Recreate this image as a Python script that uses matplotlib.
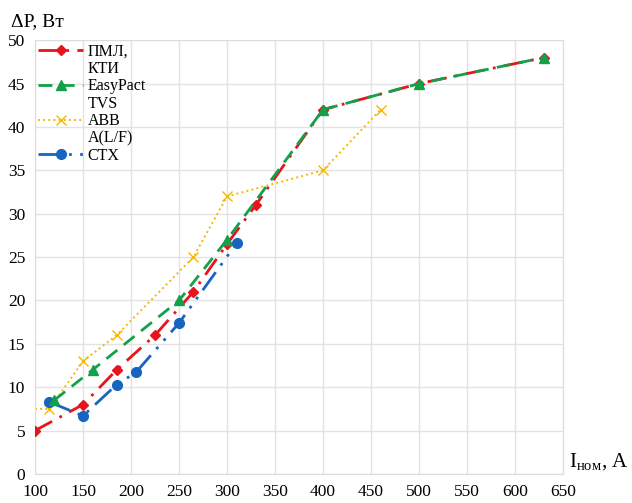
import matplotlib
matplotlib.use('Agg')
import matplotlib.pyplot as plt
from matplotlib.lines import Line2D

plt.rcParams['font.family'] = ['Liberation Serif', 'DejaVu Serif']
plt.rcParams['mathtext.fontset'] = 'custom'
plt.rcParams['mathtext.rm'] = 'Liberation Serif'

# ПМЛ, КТИ
pml_x = [100, 150, 185, 225, 265, 300, 330, 400, 500, 630]
pml_y = [5, 8, 12, 16, 21, 26.5, 31, 42, 45, 48]
# EasyPact TVS
eas_x = [120, 160, 250, 300, 400, 500, 630]
eas_y = [8.5, 12, 20, 27, 42, 45, 48]
# ABB A(L/F)
abb_x = [100, 115, 150, 185, 265, 300, 400, 460]
abb_y = [7.5, 7.5, 13, 16, 25, 32, 35, 42]
# CTX
ctx_x = [115, 150, 185, 205, 250, 310]
ctx_y = [8.3, 6.7, 10.3, 11.7, 17.4, 26.6]

legend_lines = [['ПМЛ,', 'КТИ'], ['EasyPact', 'TVS'], ['ABB', 'A(L/F)'], ['CTX']]

x_ticks = list(range(100, 651, 50))
y_ticks = list(range(0, 51, 5))

fig = plt.figure(figsize=(6.32, 5.03), dpi=100)
ax = fig.add_axes([0.0554, 0.0577, 0.8355, 0.8623])

l1, = ax.plot(pml_x, pml_y, color='#e8141c', linestyle=(0, (7, 3, 1, 3)), linewidth=2,
              marker='D', markersize=5, zorder=3)
l2, = ax.plot(eas_x, eas_y, color='#12a04a', linestyle=(0, (5, 3)), linewidth=2,
              marker='^', markersize=7, zorder=4)
l3, = ax.plot(abb_x, abb_y, color='#f5b800', linestyle=':', linewidth=1.4,
              marker='x', markersize=7, markevery=list(range(1, len(abb_x))), zorder=2)
l4, = ax.plot(ctx_x, ctx_y, color='#1765c0', linestyle=(0, (8, 3, 1, 3, 1, 3)), linewidth=2,
              marker='o', markersize=7, zorder=3)

ax.set_xlim(100, 650)
ax.set_ylim(0, 50)
ax.set_xticks(x_ticks)
ax.set_yticks(y_ticks)
ax.tick_params(length=0, labelsize=12.5, pad=7)
ax.grid(True, color='#e3e3e3', linewidth=1)
ax.set_axisbelow(True)
for s in ax.spines.values():
    s.set_color('#dcdcdc')

fig.text(0.018, 0.958, 'ΔP, Вт', fontsize=14, va='center', ha='left')
fig.text(0.9, 0.08, r'I$_{\mathrm{ном}}$, А', fontsize=15, va='center', ha='left')

# legend: handle only on the first line of each wrapped label
handles, labels = [], []
for line, parts in zip([l1, l2, l3, l4], legend_lines):
    for i, p in enumerate(parts):
        handles.append(line if i == 0 else Line2D([], [], color='none'))
        labels.append(p)
ax.legend(handles, labels, loc='upper left', frameon=False, fontsize=11.5,
          handlelength=2.8, labelspacing=0.09, borderaxespad=0.1,
          handletextpad=0.3, borderpad=0.1)

fig.savefig('out.png', dpi=100)
